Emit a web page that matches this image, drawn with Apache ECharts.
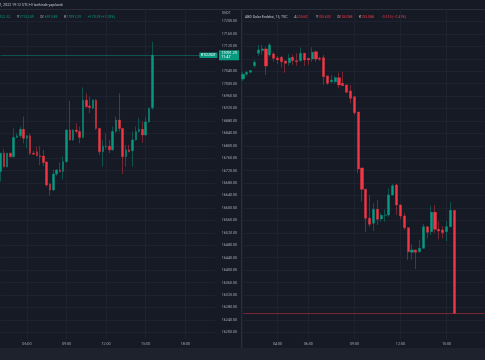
<!DOCTYPE html>
<html>
<head>
<meta charset="utf-8">
<script src="https://cdn.jsdelivr.net/npm/echarts@6/dist/echarts.min.js"></script>
<style>html,body{margin:0;padding:0;background:#161a25;}#c{width:485px;height:360px;}</style>
</head>
<body>
<div id="c"></div>
<script>
// ---- categories (15-minute bars) ----
const leftTimes = ['04:00','04:15','04:30','04:45','05:00','05:15','05:30','05:45','06:00','06:15','06:30','06:45','07:00','07:15','07:30','07:45','08:00','08:15','08:30','08:45','09:00','09:15','09:30','09:45','10:00','10:15','10:30','10:45','11:00','11:15','11:30','11:45','12:00','12:15','12:30','12:45','13:00','13:15','13:30','13:45','14:00','14:15','14:30','14:45','15:00','15:15','15:30','15:45','16:00','16:15','16:30','16:45','17:00','17:15','17:30','17:45','18:00','18:15','18:30','18:45','19:00','19:15','19:30','19:45','20:00','20:15'];
const leftTimeTicks = ['06:00','09:00','12:00','15:00','18:00'];
const rightTimes = ['01:45','02:00','02:15','02:30','02:45','03:00','03:15','03:30','03:45','04:00','04:15','04:30','04:45','05:00','05:15','05:30','05:45','06:00','06:15','06:30','06:45','07:00','07:15','07:30','07:45','08:00','08:15','08:30','08:45','09:00','09:15','09:30','09:45','10:00','10:15','10:30','10:45','11:00','11:15','11:30','11:45','12:00','12:15','12:30','12:45','13:00','13:15','13:30','13:45','14:00','14:15','14:30','14:45','15:00','15:15','15:30','15:45','16:00','16:15','16:30','16:45','17:00','17:15','17:30'];
const rightTimeTicks = ['04:00','06:00','09:00','12:00','15:00'];

// ---- BTCUSDT (left panel) ----
const btcOpen  = [16717,16776,16733,16776,16765,16827,16832,16853,16824,16832,16776,16781,16768,16767,16748,16677,16658,16709,16722,16717,16749,16851,16819,16851,16846,16827,16947,16928,16921,16947,16856,16781,16797,16799,16787,16846,16883,16856,16765,16787,16784,16819,16846,16853,16835,16877,16922.52];
const btcClose = [16776,16733,16776,16765,16827,16832,16853,16824,16832,16776,16773,16768,16765,16746,16674,16658,16709,16722,16717,16749,16851,16819,16851,16846,16827,16947,16926,16923,16947,16856,16781,16799,16799,16787,16846,16883,16856,16765,16787,16781,16819,16846,16853,16835,16877,16920,17091.29];
const btcLow   = [16685,16730,16730,16762,16762,16825,16826,16808,16792,16770,16771,16766,16738,16735,16669,16640,16655,16703,16714,16692,16746,16816,16816,16840,16808,16824,16922,16905,16918,16851,16770,16733,16790,16776,16784,16843,16846,16709,16733,16779,16733,16816,16843,16810,16832,16874,16915.89];
const btcHigh  = [16778,16789,16778,16779,16856,16840,16862,16894,16835,16840,16784,16797,16799,16787,16750,16680,16724,16725,16746,16765,16853,16945,16853,16872,16862,16988,16969,16958,16950,16950,16858,16819,16840,16819,16862,16894,16969,16858,16803,16803,16846,16862,16889,16878,16892,16924,17134.59];
const btcLast = 17091.29;
const btcTimer = '11:47';

// ---- DXY (right panel) ----
const dxyOpen  = [106.260,106.283,106.293,106.326,106.388,106.402,106.410,106.380,106.385,106.365,106.368,106.350,106.341,106.368,106.351,106.351,106.388,106.363,106.360,106.396,106.363,106.366,106.275,106.246,106.246,106.266,106.238,106.230,106.200,106.171,106.095,105.815,105.708,105.563,105.538,105.608,105.560,105.578,105.580,105.680,105.730,105.630,105.575,105.516,105.393,105.405,105.396,105.413,105.521,105.496,105.593,105.508,105.505,105.496,105.521,105.603];
const dxyClose = [106.283,106.293,106.302,106.343,106.405,106.410,106.325,106.430,106.363,106.355,106.346,106.338,106.365,106.351,106.346,106.388,106.355,106.355,106.393,106.360,106.358,106.271,106.238,106.254,106.266,106.230,106.226,106.193,106.163,106.091,105.810,105.708,105.563,105.533,105.608,105.558,105.578,105.580,105.680,105.726,105.630,105.575,105.516,105.396,105.405,105.393,105.413,105.521,105.493,105.593,105.508,105.499,105.491,105.521,105.603,105.088];
const dxyLow   = [106.250,106.275,106.291,106.315,106.375,106.380,106.280,106.370,106.345,106.335,106.318,106.291,106.325,106.330,106.325,106.347,106.325,106.331,106.345,106.345,106.350,106.230,106.230,106.238,106.238,106.213,106.224,106.188,106.138,106.080,105.788,105.646,105.496,105.521,105.499,105.530,105.546,105.546,105.571,105.676,105.580,105.558,105.505,105.355,105.355,105.310,105.390,105.411,105.463,105.480,105.491,105.458,105.463,105.449,105.519,105.088];
const dxyHigh  = [106.295,106.300,106.305,106.355,106.430,106.430,106.420,106.440,106.395,106.375,106.375,106.350,106.385,106.380,106.388,106.418,106.390,106.364,106.418,106.401,106.371,106.380,106.276,106.280,106.275,106.291,106.296,106.231,106.230,106.173,106.095,105.815,105.710,105.680,105.638,105.655,105.588,105.608,105.713,105.735,105.735,105.632,105.588,105.518,105.433,105.406,105.455,105.535,105.523,105.626,105.630,105.546,105.524,105.549,105.646,105.603];
const dxyLast = 105.088;

// ---- price axis tick step ----
const btcTickStep = 40;

const btcCandles = btcOpen.map((o, i) => [o, btcClose[i], btcLow[i], btcHigh[i]]);
const dxyCandles = dxyOpen.map((o, i) => [o, dxyClose[i], dxyLow[i], dxyHigh[i]]);

const UP = '#089981', DOWN = '#f23645';
const GRID_LINE = '#1e2230';
const LABEL = '#a3a6af';
const FONT = 'Roboto';
const FS = 3.7;

const chart = echarts.init(document.getElementById('c'), null, {renderer: 'canvas'});

function catAxis(grid, data, ticks) {
  const pick = (i, v) => ticks.indexOf(v) >= 0;
  return {
    type: 'category', gridIndex: grid, data: data, boundaryGap: false,
    axisLine: {show: false}, axisTick: {show: false},
    axisLabel: {interval: pick, margin: 2.4, fontSize: FS, color: LABEL, fontFamily: FONT},
    splitLine: {show: true, interval: pick, lineStyle: {color: GRID_LINE, width: 1}}
  };
}

const candleStyle = {
  color: UP, color0: DOWN,
  borderColor: 'rgba(8,153,129,0.55)', borderColor0: 'rgba(242,54,69,0.55)',
  borderWidth: 0.8
};

chart.setOption({
  backgroundColor: '#161a25',
  animation: false,
  textStyle: {fontFamily: FONT},
  grid: [
    {left: 0.5, top: 9.5, width: 214.5, height: 330},
    {left: 243, top: 9.5, width: 241.92, height: 330}
  ],
  xAxis: [catAxis(0, leftTimes, leftTimeTicks), catAxis(1, rightTimes, rightTimeTicks)],
  yAxis: [
    {
      type: 'value', gridIndex: 0, position: 'right',
      min: 16176.83, max: 17238.61, minInterval: btcTickStep, maxInterval: btcTickStep,
      axisLine: {show: false}, axisTick: {show: false},
      axisLabel: {margin: 6.7, fontSize: FS, color: LABEL, fontFamily: FONT,
        showMinLabel: false, showMaxLabel: false, formatter: v => v.toFixed(2)},
      splitLine: {show: true, showMinLine: false, showMaxLine: false, lineStyle: {color: GRID_LINE, width: 1}}
    },
    {
      type: 'value', gridIndex: 1, position: 'right',
      min: 16176.83, max: 17238.61, minInterval: btcTickStep, maxInterval: btcTickStep,
      axisLine: {show: false}, axisTick: {show: false}, axisLabel: {show: false},
      splitLine: {show: true, showMinLine: false, showMaxLine: false, lineStyle: {color: GRID_LINE, width: 1}}
    },
    {
      type: 'value', gridIndex: 1, position: 'right', min: 104.957, max: 106.607,
      show: false, splitLine: {show: false}
    }
  ],
  graphic: [
    {type: 'rect', silent: true, shape: {x: 0, y: 348, width: 485, height: 12}, style: {fill: '#1e222d'}},
    {type: 'line', silent: true, shape: {x1: 0, y1: 9.5, x2: 485, y2: 9.5}, style: {stroke: '#2a2e39', lineWidth: 1}},
    {type: 'rect', silent: true, shape: {x: 241, y: 9.5, width: 1.3, height: 338.5}, style: {fill: '#2a2e39'}},
    {type: 'text', silent: true, x: -0.5, y: 2.6,
      style: {text: '1, 2022 19:12 UTC+3 tarihinde yapılandı', fill: '#c3c6ce', font: '3.6px Roboto'}},
    {type: 'text', silent: true, x: -6.6, y: 11.3,
      style: {
        text: '{l|A}{g|16922.52}  {l|Y}{g|17134.59}  {l|D}{g|16915.89}  {l|K}{g|17091.29}  {g|+173.59 (+1.03%)}',
        rich: {l: {fill: '#c3c6ce', font: '3.5px Roboto'}, g: {fill: UP, font: '3.5px Roboto'}}
      }},
    {type: 'text', silent: true, x: 245, y: 11.3,
      style: {
        text: '{l|ABD Dolar Endeksi, 15, TVC}  {l|A}{r|105.603}  {l|Y}{r|105.603}  {l|D}{r|105.088}  {l|K}{r|105.088}  {r|\u22120.515 (\u22120.49%)}',
        rich: {l: {fill: '#c3c6ce', font: '3.5px Roboto'}, r: {fill: DOWN, font: '3.5px Roboto'}}
      }},
    {type: 'text', silent: true, x: 221.7, y: 10.8, style: {text: 'USDT', fill: LABEL, font: '3.6px Roboto'}}
  ],
  series: [
    {
      type: 'candlestick', name: 'BTCUSDT', xAxisIndex: 0, yAxisIndex: 0,
      data: btcCandles, barWidth: 2, itemStyle: candleStyle,
      markLine: {
        silent: true, symbol: ['none', 'none'], animation: false,
        lineStyle: {color: 'rgba(8,153,129,0.55)', type: 'solid', width: 0.8},
        label: {show: true, position: 'end', distance: 4,
          formatter: btcLast.toFixed(2) + '\n' + btcTimer,
          color: '#ffffff', backgroundColor: UP, fontSize: FS, lineHeight: 4.4,
          fontFamily: FONT, padding: [0.6, 2.3], align: 'left'},
        data: [{yAxis: btcLast}]
      },
      markPoint: {
        silent: true, animation: false, symbol: 'rect', symbolSize: [18, 5.4],
        itemStyle: {color: UP},
        label: {show: true, position: 'inside', formatter: 'BTCUSDT', color: '#ffffff', fontSize: 3.4, fontFamily: FONT},
        data: [{coord: [leftTimes[63], btcLast]}]
      }
    },
    {
      type: 'candlestick', name: 'DXY', xAxisIndex: 1, yAxisIndex: 2,
      data: dxyCandles, barWidth: 2.6, itemStyle: candleStyle,
      markLine: {
        silent: true, symbol: ['none', 'none'], animation: false,
        lineStyle: {color: 'rgba(242,54,69,0.55)', type: 'solid', width: 0.8},
        label: {show: false},
        data: [{yAxis: dxyLast}]
      }
    }
  ]
});
</script>
</body>
</html>
